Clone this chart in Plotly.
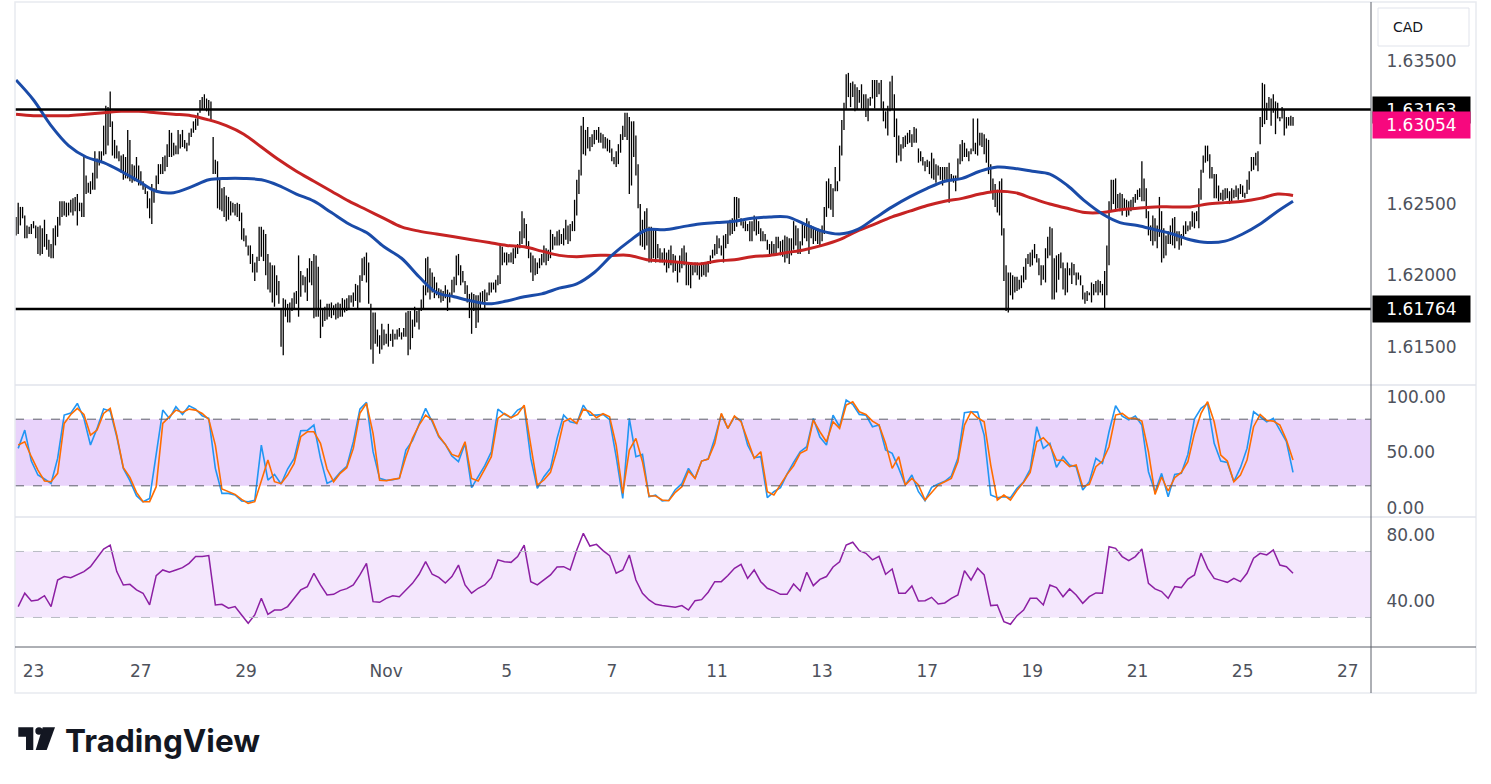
import plotly.graph_objects as go

# ==== hourly EURCAD-style bars (high / low) ====

high = [
    1.6241, 1.6251, 1.6248, 1.6248, 1.6242, 1.6235, 1.6234, 1.6236, 1.6238, 1.6235,
    1.6234, 1.6235, 1.6233, 1.6239, 1.6229, 1.6225, 1.6222, 1.6233, 1.6235, 1.6241,
    1.6252, 1.6252, 1.6252, 1.6251, 1.6251, 1.6253, 1.6254, 1.6255, 1.6257, 1.6251,
    1.6251, 1.6284, 1.6270, 1.6265, 1.6266, 1.6272, 1.6287, 1.6282, 1.6287, 1.6287,
    1.6305, 1.6319, 1.6318, 1.6329, 1.6308, 1.6295, 1.6291, 1.6287, 1.6284, 1.6285,
    1.6283, 1.6302, 1.6295, 1.6278, 1.6277, 1.6283, 1.6277, 1.6273, 1.6266, 1.6264,
    1.6259, 1.6254, 1.6264, 1.6261, 1.6270, 1.6278, 1.6278, 1.6283, 1.6284, 1.6292,
    1.6302, 1.6300, 1.6293, 1.6291, 1.6302, 1.6299, 1.6302, 1.6295, 1.6293, 1.6300,
    1.6303, 1.6308, 1.6310, 1.6314, 1.6323, 1.6325, 1.6327, 1.6324, 1.6323, 1.6322,
    1.6297, 1.6281, 1.6280, 1.6267, 1.6261, 1.6262, 1.6256, 1.6255, 1.6252, 1.6251,
    1.6250, 1.6251, 1.6250, 1.6244, 1.6233, 1.6228, 1.6221, 1.6221, 1.6215, 1.6209,
    1.6213, 1.6234, 1.6234, 1.6232, 1.6229, 1.6215, 1.6209, 1.6207, 1.6207, 1.6200,
    1.6196, 1.6177, 1.6184, 1.6183, 1.6180, 1.6181, 1.6184, 1.6188,
    1.6189, 1.6214, 1.6203, 1.6200, 1.6199, 1.6205, 1.6212, 1.6210, 1.6215, 1.6214,
    1.6206, 1.6183, 1.6177, 1.6178, 1.6180, 1.6180, 1.6181, 1.6179,
    # Oct 30 - Nov 6
    1.6180, 1.6181, 1.6180, 1.6184, 1.6183, 1.6184, 1.6186, 1.6186, 1.6188, 1.6194,
    1.6193, 1.6200, 1.6212, 1.6213, 1.6216, 1.6209, 1.6180, 1.6174, 1.6174, 1.6162,
    1.6158, 1.6166, 1.6162, 1.6159, 1.6166, 1.6159, 1.6162, 1.6159, 1.6162, 1.6163,
    1.6160, 1.6163, 1.6174, 1.6175, 1.6175, 1.6169, 1.6178, 1.6175, 1.6176, 1.6183,
    1.6193, 1.6212, 1.6213, 1.6205, 1.6202, 1.6199, 1.6195, 1.6191, 1.6190, 1.6189,
    1.6193, 1.6190, 1.6188, 1.6197, 1.6199, 1.6214, 1.6215, 1.6207, 1.6203, 1.6196,
    1.6193, 1.6187, 1.6188, 1.6187, 1.6186, 1.6186, 1.6188, 1.6189, 1.6190, 1.6188,
    1.6195, 1.6195, 1.6195, 1.6197, 1.6200, 1.6222, 1.6220, 1.6216, 1.6216, 1.6215,
    1.6216, 1.6219, 1.6221, 1.6222,
    1.6231, 1.6245, 1.6240, 1.6236, 1.6224, 1.6216,
    1.6214, 1.6212, 1.6209, 1.6212, 1.6215, 1.6221, 1.6219, 1.6218, 1.6232, 1.6229,
    1.6227, 1.6231, 1.6232, 1.6229, 1.6233, 1.6239, 1.6235, 1.6236, 1.6238, 1.6253,
    1.6267, 1.6274, 1.6305, 1.6311, 1.6302, 1.6304, 1.6297, 1.6299, 1.6302, 1.6302,
    1.6304, 1.6300, 1.6299, 1.6297, 1.6296, 1.6295, 1.6289, 1.6283, 1.6287, 1.6292,
    1.6299, 1.6305, 1.6314, 1.6314, 1.6311, 1.6308, 1.6308, 1.6298, 1.6278, 1.6250,
    1.6239, 1.6245, 1.6247, 1.6234, 1.6234, 1.6232,
    # Nov 7 - Nov 17
    1.6233, 1.6222, 1.6219, 1.6216, 1.6219, 1.6216, 1.6218, 1.6221, 1.6215, 1.6214,
    1.6209, 1.6214, 1.6219, 1.6221, 1.6216, 1.6209, 1.6209, 1.6207, 1.6209, 1.6209,
    1.6207, 1.6209, 1.6209, 1.6209, 1.6210, 1.6214, 1.6218, 1.6222, 1.6228, 1.6226,
    1.6221, 1.6228, 1.6229, 1.6238, 1.6239, 1.6240, 1.6255, 1.6255, 1.6254, 1.6240,
    1.6238, 1.6238, 1.6236, 1.6238, 1.6238, 1.6242, 1.6241, 1.6238, 1.6233, 1.6231,
    1.6229, 1.6225, 1.6222, 1.6224, 1.6222, 1.6227, 1.6227, 1.6224, 1.6225, 1.6228,
    1.6227, 1.6226, 1.6226, 1.6238, 1.6235, 1.6233, 1.6224, 1.6236, 1.6235, 1.6240,
    1.6238, 1.6235, 1.6234, 1.6232, 1.6233, 1.6231, 1.6235, 1.6248, 1.6266, 1.6268,
    1.6264, 1.6261, 1.6276, 1.6266, 1.6291, 1.6309, 1.6321, 1.6341, 1.6342, 1.6335,
    1.6336, 1.6334, 1.6332, 1.6330, 1.6334, 1.6327, 1.6327, 1.6324, 1.6325, 1.6337,
    1.6337, 1.6337, 1.6335, 1.6337, 1.6322, 1.6315, 1.6319, 1.6336, 1.6340, 1.6327,
    1.6310, 1.6298, 1.6292, 1.6297, 1.6298, 1.6300, 1.6302, 1.6299, 1.6304, 1.6303,
    1.6289, 1.6287, 1.6283, 1.6280, 1.6281, 1.6280, 1.6286, 1.6282, 1.6278, 1.6277,
    1.6276, 1.6276, 1.6276, 1.6276, 1.6279, 1.6271, 1.6270, 1.6270, 1.6282, 1.6292,
    1.6295, 1.6293, 1.6289, 1.6287, 1.6289, 1.6310,
    # Nov 17 - Nov 25
    1.6293, 1.6310, 1.6300, 1.6300, 1.6299, 1.6296, 1.6295, 1.6278, 1.6268, 1.6264,
    1.6260, 1.6266, 1.6268, 1.6233, 1.6207, 1.6202, 1.6202, 1.6200, 1.6199, 1.6199,
    1.6197, 1.6200, 1.6206, 1.6212, 1.6215, 1.6216, 1.6218, 1.6222, 1.6215, 1.6212,
    1.6207, 1.6207, 1.6219, 1.6227, 1.6234, 1.6233, 1.6212, 1.6214, 1.6215, 1.6216,
    1.6209, 1.6205, 1.6209, 1.6205, 1.6209, 1.6208, 1.6202, 1.6202, 1.6200, 1.6193,
    1.6188, 1.6189, 1.6188, 1.6195, 1.6194, 1.6196, 1.6197, 1.6196, 1.6194, 1.6203,
    1.6221, 1.6252, 1.6267, 1.6267, 1.6268, 1.6257, 1.6258, 1.6257, 1.6254, 1.6253,
    1.6252, 1.6253, 1.6255, 1.6257, 1.6260, 1.6261, 1.6280, 1.6268, 1.6261, 1.6245,
    1.6235, 1.6242, 1.6240, 1.6235, 1.6255, 1.6245, 1.6233, 1.6228, 1.6231, 1.6235,
    1.6240, 1.6241, 1.6231, 1.6231, 1.6229, 1.6235, 1.6238, 1.6235, 1.6238, 1.6245,
    1.6244, 1.6245, 1.6261, 1.6274, 1.6284, 1.6291, 1.6291, 1.6285, 1.6276, 1.6271,
    1.6271, 1.6263, 1.6258, 1.6260, 1.6261, 1.6261, 1.6259, 1.6261, 1.6260, 1.6263,
    1.6261, 1.6264, 1.6263, 1.6258, 1.6267, 1.6273, 1.6283, 1.6283, 1.6286, 1.6287,
    1.6311, 1.6335, 1.6334, 1.6321, 1.6325, 1.6324, 1.6327, 1.6322, 1.6321, 1.6311,
    1.6318, 1.6316, 1.6311, 1.6311, 1.6312, 1.6311,
]

low = [
    1.6228, 1.6229, 1.6235, 1.6240, 1.6226, 1.6226, 1.6229, 1.6229, 1.6233, 1.6226,
    1.6215, 1.6214, 1.6215, 1.6220, 1.6218, 1.6213, 1.6212, 1.6212, 1.6221, 1.6227,
    1.6235, 1.6241, 1.6242, 1.6241, 1.6242, 1.6244, 1.6242, 1.6245, 1.6235, 1.6245,
    1.6241, 1.6241, 1.6257, 1.6258, 1.6257, 1.6260, 1.6260, 1.6268, 1.6277, 1.6280,
    1.6284, 1.6285, 1.6291, 1.6304, 1.6284, 1.6282, 1.6282, 1.6280, 1.6272, 1.6267,
    1.6268, 1.6268, 1.6266, 1.6265, 1.6266, 1.6266, 1.6263, 1.6263, 1.6260, 1.6257,
    1.6247, 1.6240, 1.6236, 1.6251, 1.6259, 1.6264, 1.6271, 1.6271, 1.6273, 1.6276,
    1.6283, 1.6283, 1.6284, 1.6285, 1.6285, 1.6289, 1.6290, 1.6289, 1.6287, 1.6291,
    1.6297, 1.6300, 1.6302, 1.6305, 1.6314, 1.6316, 1.6317, 1.6315, 1.6312, 1.6309,
    1.6271, 1.6271, 1.6247, 1.6246, 1.6245, 1.6241, 1.6238, 1.6239, 1.6242, 1.6244,
    1.6242, 1.6241, 1.6238, 1.6225, 1.6224, 1.6220, 1.6214, 1.6208, 1.6202, 1.6196,
    1.6202, 1.6210, 1.6213, 1.6210, 1.6200, 1.6190, 1.6188, 1.6181, 1.6178, 1.6186,
    1.6180, 1.6150, 1.6144, 1.6171, 1.6167, 1.6167, 1.6175, 1.6177,
    1.6180, 1.6171, 1.6185, 1.6193, 1.6188, 1.6182, 1.6195, 1.6193, 1.6170, 1.6171,
    1.6171, 1.6156, 1.6164, 1.6168, 1.6169, 1.6171, 1.6170, 1.6172,
    # Oct 30 - Nov 6
    1.6169, 1.6170, 1.6171, 1.6171, 1.6174, 1.6175, 1.6176, 1.6181, 1.6178, 1.6182,
    1.6176, 1.6181, 1.6196, 1.6200, 1.6195, 1.6180, 1.6148, 1.6138, 1.6152, 1.6150,
    1.6145, 1.6148, 1.6151, 1.6152, 1.6150, 1.6154, 1.6150, 1.6155, 1.6155, 1.6157,
    1.6155, 1.6157, 1.6157, 1.6144, 1.6148, 1.6156, 1.6164, 1.6167, 1.6162, 1.6175,
    1.6176, 1.6186, 1.6188, 1.6183, 1.6188, 1.6184, 1.6186, 1.6184, 1.6181, 1.6182,
    1.6184, 1.6175, 1.6181, 1.6186, 1.6188, 1.6193, 1.6200, 1.6193, 1.6195, 1.6187,
    1.6181, 1.6170, 1.6159, 1.6175, 1.6163, 1.6167, 1.6177, 1.6181, 1.6177, 1.6182,
    1.6186, 1.6188, 1.6190, 1.6188, 1.6193, 1.6194, 1.6207, 1.6209, 1.6207, 1.6209,
    1.6209, 1.6208, 1.6212, 1.6215,
    1.6219, 1.6222, 1.6226, 1.6219, 1.6212, 1.6202,
    1.6196, 1.6200, 1.6201, 1.6205, 1.6207, 1.6209, 1.6207, 1.6210, 1.6212, 1.6218,
    1.6221, 1.6221, 1.6221, 1.6222, 1.6221, 1.6225, 1.6222, 1.6224, 1.6231, 1.6231,
    1.6242, 1.6257, 1.6270, 1.6285, 1.6284, 1.6289, 1.6287, 1.6290, 1.6292, 1.6295,
    1.6293, 1.6293, 1.6289, 1.6289, 1.6287, 1.6286, 1.6280, 1.6278, 1.6276, 1.6278,
    1.6286, 1.6295, 1.6297, 1.6295, 1.6257, 1.6263, 1.6283, 1.6270, 1.6247, 1.6221,
    1.6220, 1.6218, 1.6221, 1.6209, 1.6209, 1.6212,
    # Nov 7 - Nov 17
    1.6209, 1.6212, 1.6209, 1.6209, 1.6207, 1.6202, 1.6205, 1.6207, 1.6202, 1.6203,
    1.6195, 1.6202, 1.6205, 1.6207, 1.6193, 1.6193, 1.6191, 1.6200, 1.6202, 1.6200,
    1.6197, 1.6199, 1.6200, 1.6199, 1.6202, 1.6208, 1.6212, 1.6214, 1.6215, 1.6219,
    1.6214, 1.6209, 1.6219, 1.6222, 1.6228, 1.6229, 1.6231, 1.6234, 1.6240, 1.6235,
    1.6233, 1.6231, 1.6231, 1.6224, 1.6224, 1.6231, 1.6228, 1.6229, 1.6224, 1.6224,
    1.6224, 1.6218, 1.6215, 1.6214, 1.6215, 1.6215, 1.6219, 1.6214, 1.6213, 1.6209,
    1.6212, 1.6208, 1.6214, 1.6218, 1.6221, 1.6215, 1.6215, 1.6221, 1.6226, 1.6224,
    1.6215, 1.6226, 1.6222, 1.6224, 1.6222, 1.6221, 1.6224, 1.6229, 1.6241, 1.6247,
    1.6246, 1.6241, 1.6259, 1.6259, 1.6266, 1.6284, 1.6302, 1.6316, 1.6325, 1.6318,
    1.6325, 1.6315, 1.6316, 1.6321, 1.6317, 1.6316, 1.6311, 1.6308, 1.6319, 1.6324,
    1.6317, 1.6325, 1.6327, 1.6317, 1.6308, 1.6303, 1.6298, 1.6315, 1.6316, 1.6297,
    1.6279, 1.6284, 1.6280, 1.6289, 1.6290, 1.6292, 1.6293, 1.6290, 1.6293, 1.6293,
    1.6279, 1.6280, 1.6277, 1.6273, 1.6276, 1.6271, 1.6268, 1.6267, 1.6265, 1.6270,
    1.6267, 1.6263, 1.6267, 1.6266, 1.6251, 1.6266, 1.6265, 1.6259, 1.6267, 1.6278,
    1.6280, 1.6283, 1.6283, 1.6280, 1.6285, 1.6287,
    # Nov 17 - Nov 25
    1.6285, 1.6284, 1.6291, 1.6290, 1.6285, 1.6279, 1.6271, 1.6258, 1.6253, 1.6248,
    1.6244, 1.6242, 1.6228, 1.6196, 1.6175, 1.6174, 1.6186, 1.6183, 1.6188, 1.6189,
    1.6190, 1.6191, 1.6195, 1.6197, 1.6208, 1.6206, 1.6207, 1.6212, 1.6209, 1.6200,
    1.6193, 1.6197, 1.6195, 1.6212, 1.6214, 1.6183, 1.6183, 1.6188, 1.6197, 1.6205,
    1.6190, 1.6186, 1.6188, 1.6200, 1.6194, 1.6200, 1.6193, 1.6197, 1.6193, 1.6183,
    1.6180, 1.6182, 1.6186, 1.6181, 1.6186, 1.6188, 1.6186, 1.6188, 1.6186, 1.6176,
    1.6186, 1.6207, 1.6245, 1.6250, 1.6246, 1.6247, 1.6245, 1.6242, 1.6246, 1.6241,
    1.6242, 1.6245, 1.6247, 1.6251, 1.6253, 1.6255, 1.6252, 1.6252, 1.6240, 1.6228,
    1.6224, 1.6221, 1.6224, 1.6219, 1.6227, 1.6209, 1.6212, 1.6214, 1.6222, 1.6222,
    1.6221, 1.6219, 1.6224, 1.6218, 1.6221, 1.6227, 1.6229, 1.6231, 1.6232, 1.6234,
    1.6233, 1.6238, 1.6233, 1.6253, 1.6272, 1.6279, 1.6280, 1.6268, 1.6268, 1.6254,
    1.6254, 1.6252, 1.6253, 1.6252, 1.6253, 1.6254, 1.6250, 1.6252, 1.6254, 1.6255,
    1.6253, 1.6257, 1.6255, 1.6254, 1.6257, 1.6260, 1.6273, 1.6274, 1.6277, 1.6273,
    1.6292, 1.6304, 1.6306, 1.6309, 1.6317, 1.6305, 1.6314, 1.6299, 1.6310, 1.6308,
    1.6310, 1.6298, 1.6303, 1.6305, 1.6305, 1.6305,
]

# moving averages, read every 8 bars (+ last bar)
ma_fast = [
    1.6337, 1.6323, 1.6305, 1.6291, 1.6283, 1.6279, 1.6273, 1.6266, 1.6259, 1.6258,
    1.6262, 1.6267, 1.6268, 1.6268, 1.6267, 1.6263, 1.6257, 1.6252, 1.6244, 1.6236,
    1.6230, 1.6220, 1.6212, 1.6199, 1.6188, 1.6185, 1.6182, 1.6180, 1.6182, 1.6185,
    1.6187, 1.6191, 1.6194, 1.6202, 1.6214, 1.6224, 1.6232, 1.6232, 1.6234, 1.6236,
    1.6237, 1.6238, 1.6240, 1.6241, 1.6241, 1.6236, 1.6231, 1.6229, 1.6232, 1.6240,
    1.6248, 1.6255, 1.6261, 1.6266, 1.6268, 1.6273, 1.6276, 1.6275, 1.6273, 1.6271,
    1.6263, 1.6252, 1.6243, 1.6237, 1.6235, 1.6232, 1.6229, 1.6225, 1.6223, 1.6224,
    1.6229, 1.6236, 1.6245, 1.6252,
]
ma_slow = [
    1.6313, 1.6312, 1.6312, 1.6312, 1.6313, 1.6314, 1.6315, 1.6315, 1.6314, 1.6313,
    1.6312, 1.6309, 1.6305, 1.6299, 1.6290, 1.6281, 1.6273, 1.6266, 1.6259, 1.6252,
    1.6246, 1.6240, 1.6234, 1.6231, 1.6229, 1.6227, 1.6225, 1.6223, 1.6221, 1.6220,
    1.6217, 1.6214, 1.6213, 1.6214, 1.6214, 1.6214, 1.6211, 1.6210, 1.6209, 1.6208,
    1.6210, 1.6211, 1.6213, 1.6214, 1.6216, 1.6218, 1.6221, 1.6225, 1.6231, 1.6236,
    1.6241, 1.6245, 1.6249, 1.6252, 1.6254, 1.6257, 1.6259, 1.6258, 1.6254, 1.6250,
    1.6247, 1.6244, 1.6244, 1.6246, 1.6247, 1.6248, 1.6248, 1.6248, 1.6250, 1.6251,
    1.6252, 1.6254, 1.6257, 1.6256,
]

# stochastic RSI %K / %D and RSI, read every 3 bars
stoch_k = [
    53.7, 70.2, 42.3, 29.7, 26.1, 22.2, 44.7, 83.7, 85.5, 94.2, 80.7, 56.7, 71.7, 89.1, 87.3, 64.2,
    35.7, 24.6, 11.1, 5.7, 8.7, 47.7, 88.2, 80.7, 91.2, 84.3, 92.1, 89.1, 83.1, 80.7, 35.7, 13.2,
    13.2, 11.7, 6.3, 5.7, 6.9, 56.7, 25.2, 30.3, 21.6, 35.1, 44.7, 69.6, 69.9, 74.7, 44.7, 22.2, 25.2,
    32.1, 37.5, 59.7, 89.1, 95.1, 50.7, 26.7, 24.9, 25.5, 26.7, 52.2, 60.6, 75.3, 89.7, 77.7, 64.2,
    57.3, 46.8, 41.7, 58.2, 18.3, 28.2, 38.1, 50.7, 89.1, 84.3, 81.3, 88.2, 91.2, 44.7, 17.7, 28.2,
    35.7, 62.7, 83.7, 77.7, 76.2, 92.7, 83.7, 83.7, 84.3, 79.5, 46.2, 8.7, 80.7, 46.2, 48.3, 10.2, 11.7,
    6.3, 6.9, 16.5, 21.9, 35.7, 26.7, 42.3, 44.1, 62.7, 84.3, 71.7, 82.2, 78.9, 56.7, 45.3, 46.2,
    9.3, 14.7, 18.3, 30.6, 41.1, 50.7, 55.2, 80.7, 63.9, 56.7, 83.7, 73.2, 97.2, 93.3, 84.3, 83.7,
    73.2, 74.7, 52.2, 49.2, 35.7, 20.7, 29.7, 14.7, 6.6, 18.6, 21.6, 24.0, 28.8, 44.7, 85.8, 86.7,
    86.4, 65.7, 11.7, 9.3, 10.2, 9.3, 17.7, 23.7, 34.8, 73.2, 53.7, 58.2, 36.6, 46.2, 38.7, 37.2,
    16.2, 23.7, 44.7, 40.2, 68.7, 92.1, 82.8, 79.5, 82.8, 74.7, 32.7, 14.7, 31.2, 10.2, 30.3, 31.2,
    48.3, 80.1, 89.7, 94.2, 58.2, 42.3, 41.1, 23.7, 36.3, 53.7, 86.7, 81.9, 77.7, 80.7, 70.2, 59.7, 32.1,
]
stoch_d = [
    56.7, 59.7, 46.2, 34.2, 24.3, 23.7, 31.2, 76.2, 84.3, 89.7, 84.3, 65.7, 70.2, 85.2, 89.7, 65.7,
    36.3, 27.6, 14.1, 5.7, 5.7, 19.2, 76.2, 82.2, 88.2, 86.1, 89.1, 88.2, 85.2, 79.8, 56.7, 17.1,
    14.7, 12.3, 7.8, 4.2, 5.7, 23.7, 43.2, 23.7, 21.9, 29.7, 40.2, 64.2, 68.7, 68.7, 58.2, 35.1, 23.7,
    31.2, 36.3, 53.7, 85.2, 94.2, 67.2, 24.9, 24.6, 25.8, 26.7, 46.2, 62.7, 74.7, 83.7, 79.2, 65.1,
    57.3, 48.3, 46.2, 59.7, 26.7, 24.3, 35.1, 46.2, 80.7, 85.2, 81.3, 84.3, 92.7, 57.9, 20.7, 25.2,
    32.1, 52.2, 77.7, 80.7, 76.2, 89.1, 86.7, 81.3, 84.9, 82.2, 56.7, 13.2, 52.2, 62.7, 41.7, 10.8, 10.8,
    7.2, 6.6, 14.1, 19.2, 33.3, 26.7, 42.3, 44.1, 58.2, 85.2, 71.7, 82.8, 77.7, 62.1, 44.7, 50.7,
    14.7, 11.7, 21.0, 30.3, 38.1, 49.2, 52.2, 79.2, 68.7, 59.7, 77.7, 71.7, 92.7, 95.7, 86.7, 84.3,
    78.3, 74.7, 58.2, 35.7, 46.2, 20.7, 26.7, 20.7, 7.2, 14.1, 20.7, 23.7, 26.7, 41.7, 74.7, 86.7,
    81.3, 77.7, 38.7, 7.2, 11.7, 7.2, 15.9, 23.1, 32.1, 59.7, 63.3, 56.7, 43.2, 42.9, 37.2, 38.7,
    19.2, 21.3, 37.2, 42.3, 55.2, 83.7, 85.2, 80.7, 80.7, 78.3, 50.7, 12.3, 27.9, 15.3, 27.3, 32.1,
    41.7, 67.2, 85.2, 95.7, 77.7, 47.7, 42.3, 23.7, 29.7, 43.2, 73.2, 84.3, 78.9, 78.3, 74.7, 61.2, 43.2,
]
rsi = [
    36.6, 44.7, 40.0, 40.6, 43.2, 36.6, 52.7, 54.8, 54.1, 55.8, 57.8, 60.8, 65.9, 71.5, 73.9, 57.8,
    49.7, 50.1, 46.7, 44.7, 37.6, 55.4, 58.8, 57.4, 58.8, 60.2, 62.8, 66.9, 66.9, 67.5, 37.6, 38.0,
    35.6, 36.6, 31.5, 26.5, 31.5, 41.6, 31.9, 34.5, 34.5, 36.6, 41.6, 46.7, 48.7, 56.8, 49.7, 43.6, 44.0,
    46.3, 47.5, 49.7, 55.8, 62.8, 39.6, 39.2, 41.6, 43.2, 42.6, 46.7, 50.7, 56.2, 63.8, 56.2, 54.3,
    50.9, 54.8, 61.8, 49.7, 44.7, 47.7, 49.7, 54.1, 64.9, 63.8, 63.4, 66.9, 73.9, 51.7, 49.7, 52.7,
    55.8, 60.6, 60.8, 58.8, 70.9, 81.0, 73.3, 74.3, 70.5, 67.5, 56.8, 58.8, 67.9, 52.7, 44.7, 40.6, 38.0,
    37.2, 36.6, 36.2, 37.2, 34.5, 40.2, 40.8, 45.3, 51.7, 51.7, 55.4, 59.8, 62.2, 53.7, 58.8, 51.7,
    47.7, 46.1, 44.0, 44.0, 50.3, 46.1, 57.4, 49.3, 53.1, 54.8, 60.6, 63.8, 73.9, 75.6, 70.5, 68.9,
    64.9, 67.0, 56.2, 59.4, 44.7, 44.7, 49.1, 40.0, 40.2, 42.2, 38.2, 38.8, 41.6, 43.6, 58.4, 52.7,
    59.8, 55.8, 37.2, 37.6, 27.5, 25.9, 31.1, 34.5, 41.6, 41.6, 37.6, 49.7, 48.1, 42.6, 47.3, 43.6,
    38.6, 42.6, 44.9, 44.7, 72.9, 71.9, 66.9, 64.4, 66.9, 71.5, 50.7, 47.3, 45.7, 41.6, 48.7, 48.1,
    53.3, 55.8, 68.9, 59.8, 53.7, 52.5, 51.3, 53.7, 51.7, 56.8, 65.9, 68.9, 67.9, 70.9, 61.8, 60.8, 56.8,
]

levels = [1.63163, 1.61764]
last_price = 1.63054

# bar index where each labelled day starts
day_ticks = [8, 57, 105, 169, 224, 272, 320, 368, 416, 464, 512, 560, 608]
day_labels = ["23", "27", "29", "Nov", "5", "7", "11", "13", "17", "19", "21", "25", "27"]

# ---------------------------------------------------------------------

W, H = 1491, 784
ML, MR, MT, MB = 15, 120, 3, 137
PW, PH = W - ML - MR, H - MT - MB


def px(x):
    return (x - ML) / PW


def py(y):
    return (H - MB - y) / PH


bars = list(range(len(high)))
ma_x = list(range(0, 577, 8)) + [bars[-1]]
osc_x = list(range(1, len(high), 3))

bar_x, bar_y = [], []
for i, h, l in zip(bars, high, low):
    bar_x += [i, i, None]
    bar_y += [l, h, None]

FONT = "DejaVu Sans"
TXT = "#4e525c"

fig = go.Figure()
fig.add_trace(go.Scatter(x=bar_x, y=bar_y, mode="lines",
                         line=dict(color="#000000", width=1.3), yaxis="y"))
fig.add_trace(go.Scatter(x=ma_x, y=ma_slow, mode="lines",
                         line=dict(color="#c62323", width=3, shape="spline"), yaxis="y"))
fig.add_trace(go.Scatter(x=ma_x, y=ma_fast, mode="lines",
                         line=dict(color="#1a4ba8", width=3, shape="spline"), yaxis="y"))
fig.add_trace(go.Scatter(x=osc_x, y=stoch_k, mode="lines",
                         line=dict(color="#2196f3", width=1.6), yaxis="y2"))
fig.add_trace(go.Scatter(x=osc_x, y=stoch_d, mode="lines",
                         line=dict(color="#ff6d00", width=1.6), yaxis="y2"))
fig.add_trace(go.Scatter(x=osc_x, y=rsi, mode="lines",
                         line=dict(color="#8c1fa3", width=1.5), yaxis="y3"))

shapes = []
# oscillator bands
shapes.append(dict(type="rect", xref="paper", yref="y2", x0=0, x1=1, y0=20, y1=80,
                   fillcolor="#e9d3fb", line_width=0, layer="below"))
shapes.append(dict(type="rect", xref="paper", yref="y3", x0=0, x1=1, y0=30, y1=70,
                   fillcolor="#f4e7fd", line_width=0, layer="below"))
for v in (80, 20):
    shapes.append(dict(type="line", xref="paper", yref="y2", x0=0, x1=1, y0=v, y1=v,
                       line=dict(color="#5d606b", width=1, dash="dash")))
for v in (70, 30):
    shapes.append(dict(type="line", xref="paper", yref="y3", x0=0, x1=1, y0=v, y1=v,
                       line=dict(color="#b9bcc4", width=1, dash="dash")))
# support / resistance
for lv in levels:
    shapes.append(dict(type="line", xref="paper", yref="y", x0=0, x1=1, y0=lv, y1=lv,
                       line=dict(color="#000000", width=2.6)))
# frame, pane separators, axis lines
shapes.append(dict(type="rect", xref="paper", yref="paper", x0=0, x1=px(1476),
                   y0=py(693), y1=py(2), line=dict(color="#e8eaef", width=1.5)))
for yy in (385, 517):
    shapes.append(dict(type="line", xref="paper", yref="paper", x0=0, x1=px(1476),
                       y0=py(yy), y1=py(yy), line=dict(color="#e0e3eb", width=1.5)))
shapes.append(dict(type="line", xref="paper", yref="paper", x0=0, x1=px(1476),
                   y0=0, y1=0, line=dict(color="#5d606b", width=1)))
shapes.append(dict(type="line", xref="paper", yref="paper", x0=1, x1=1,
                   y0=py(693), y1=py(2), line=dict(color="#5d606b", width=1)))
# currency box
shapes.append(dict(type="rect", xref="paper", yref="paper", x0=px(1378), x1=px(1469),
                   y0=py(46), y1=py(8), line=dict(color="#e0e3eb", width=1),
                   fillcolor="#ffffff"))


# TradingView logo mark
def poly(pts):
    return "M " + " L ".join(f"{px(a):.5f},{py(b):.5f}" for a, b in pts) + " Z"


shapes.append(dict(type="path", xref="paper", yref="paper", line_width=0, fillcolor="#131722",
                   path=poly([(18.3, 727.3), (33.3, 727.3), (33.3, 750), (26, 750),
                              (26, 736.7), (18.3, 736.7)])))
shapes.append(dict(type="path", xref="paper", yref="paper", line_width=0, fillcolor="#131722",
                   path=poly([(42.7, 727.3), (55, 727.3), (46.7, 750), (35.7, 750)])))
shapes.append(dict(type="circle", xref="paper", yref="paper", line_width=0, fillcolor="#131722",
                   x0=px(35.3), x1=px(42.7), y0=py(734.7), y1=py(727.3)))

annotations = [
    dict(text="CAD", xref="paper", yref="paper", x=px(1391), y=py(27), xanchor="left",
         yanchor="middle", showarrow=False, font=dict(family=FONT, size=14, color="#131722")),
    dict(text="<b>TradingView</b>", xref="paper", yref="paper", x=px(63), y=py(740),
         xanchor="left", yanchor="middle", showarrow=False,
         font=dict(family="Inter", size=31.5, color="#131722")),
]
for lv, col in ((levels[0], "#000000"), (last_price, "#f7087e"), (levels[1], "#000000")):
    annotations.append(dict(text=f"{lv:.5f}", xref="paper", yref="y", x=px(1372), y=lv,
                            xanchor="left", yanchor="middle", showarrow=False,
                            width=93, height=22, borderpad=2, bgcolor=col, align="center",
                            font=dict(family=FONT, size=17, color="#ffffff")))

axis_font = dict(family=FONT, size=17, color=TXT)
yax = dict(side="right", anchor="x", showgrid=False, zeroline=False, showline=False,
           ticks="outside", ticklen=11, tickcolor="rgba(0,0,0,0)", tickfont=axis_font)

fig.update_layout(
    width=W, height=H,
    margin=dict(l=ML, r=MR, t=MT, b=MB),
    paper_bgcolor="#ffffff", plot_bgcolor="#ffffff",
    showlegend=False, hovermode=False,
    xaxis=dict(domain=[0, 1], anchor="y3", range=[-0.46, 618.6],
               tickvals=day_ticks, ticktext=day_labels, showgrid=False, zeroline=False,
               showline=False, ticks="outside", ticklen=9, tickcolor="rgba(0,0,0,0)",
               tickfont=axis_font),
    yaxis=dict(domain=[py(385), 1], range=[1.61231, 1.63910],
               tickvals=[1.615, 1.62, 1.625, 1.635], tickformat=".5f", **yax),
    yaxis2=dict(domain=[py(517), py(385)], range=[-8.1, 110.8],
                tickvals=[0, 50, 100], tickformat=".2f", **yax),
    yaxis3=dict(domain=[0, py(517)], range=[12.1, 90.9],
                tickvals=[40, 80], tickformat=".2f", **yax),
    shapes=shapes,
    annotations=annotations,
)

# page body has an 8px default margin; drop it so the figure sits at the window origin
fig.write_html("out.html", config={"displayModeBar": False},
               post_script="document.body.style.margin='0px';"
                           "document.body.style.overflow='hidden';")
